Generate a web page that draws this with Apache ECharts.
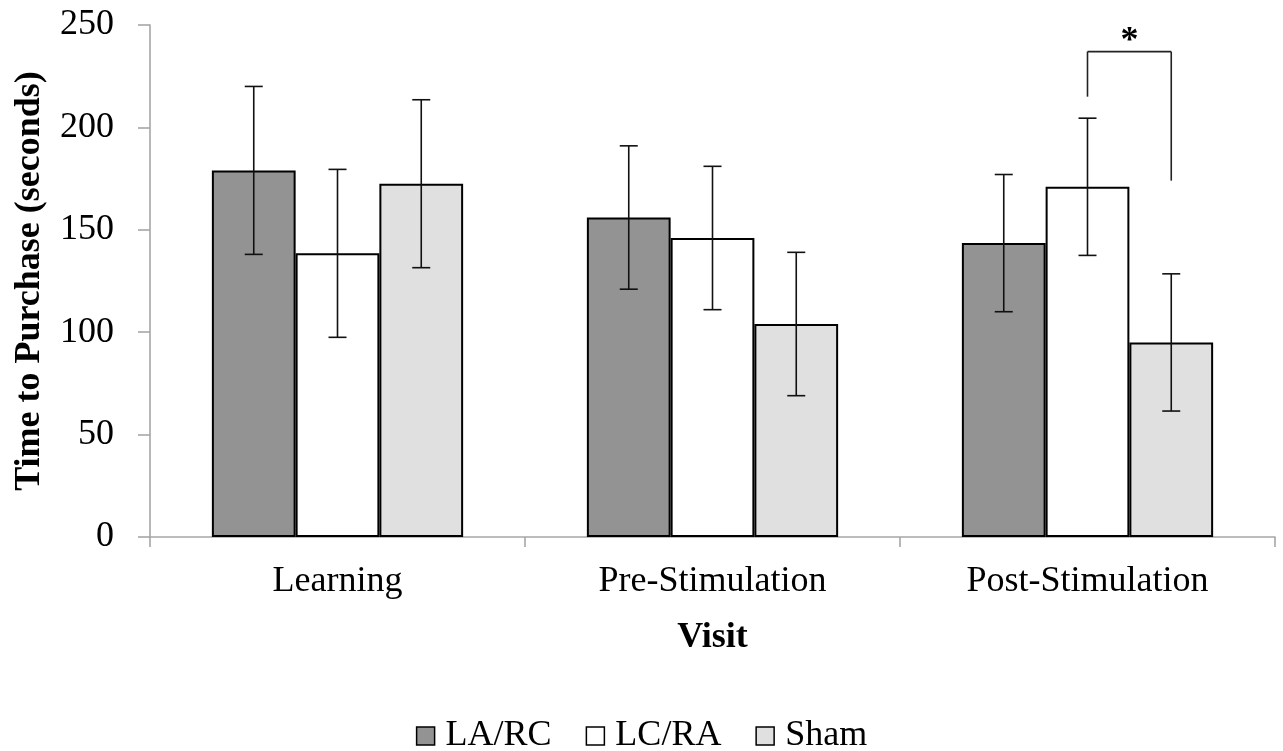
<!DOCTYPE html>
<html>
<head>
<meta charset="utf-8">
<script src="https://cdn.jsdelivr.net/npm/echarts@6/dist/echarts.min.js"></script>
<style>
html,body{margin:0;padding:0;background:#fff;}
#chart{width:1283px;height:751px;}
</style>
</head>
<body>
<div id="chart"></div>
<script>
// ---- data ----
var categories = ['Learning', 'Pre-Stimulation', 'Post-Stimulation'];
var seriesNames = ['LA/RC', 'LC/RA', 'Sham'];
var laRc = [179, 156, 143.5];
var lcRa = [138.5, 146, 171];
var sham = [172.5, 104, 95];
var laRcErr = [41, 35, 33.5];
var lcRaErr = [41, 35, 33.5];
var shamErr = [41, 35, 33.5];
var yTicks = [0, 50, 100, 150, 200, 250];
// significance bracket
var sigCategory = [2];
var sigFrom = [1];
var sigTo = [2];
var sigTop = [237];
var sigLeftEnd = [215];
var sigRightEnd = [174];
var sigLabel = ['*'];

var FONT = '"Liberation Serif", "Times New Roman", serif';
var colors = ['#939393', '#ffffff', '#e0e0e0'];
var CAT_GAP = 0.33;

function barOffset(api, idx) {
  var band = api.size([1, 0])[0];
  var barW = band * (1 - CAT_GAP) / 3;
  return (idx - 1) * barW;
}

function errData(means, errs) {
  return means.map(function (m, i) { return [i, m - errs[i], m + errs[i]]; });
}

function errSeries(name, idx, means, errs) {
  return {
    type: 'custom',
    name: name + ' err',
    z: 10,
    data: errData(means, errs),
    encode: { x: 0, y: [1, 2] },
    renderItem: function (params, api) {
      var ci = api.value(0);
      var lo = api.coord([ci, api.value(1)]);
      var hi = api.coord([ci, api.value(2)]);
      var x = lo[0] + barOffset(api, idx);
      var cap = 9;
      var style = { stroke: '#111', lineWidth: 1.6 };
      return {
        type: 'group',
        children: [
          { type: 'line', shape: { x1: x, y1: hi[1], x2: x, y2: lo[1] }, style: style },
          { type: 'line', shape: { x1: x - cap, y1: hi[1], x2: x + cap, y2: hi[1] }, style: style },
          { type: 'line', shape: { x1: x - cap, y1: lo[1], x2: x + cap, y2: lo[1] }, style: style }
        ]
      };
    }
  };
}

function barSeries(name, idx, values) {
  return {
    type: 'bar',
    name: name,
    data: values,
    barGap: '0%',
    barCategoryGap: (CAT_GAP * 100) + '%',
    itemStyle: { color: colors[idx], borderColor: '#000', borderWidth: 2 }
  };
}

var sigData = sigCategory.map(function (c, i) {
  return [c, sigTop[i], sigLeftEnd[i], sigRightEnd[i], sigFrom[i], sigTo[i]];
});

var chart = echarts.init(document.getElementById('chart'), null, { renderer: 'canvas' });
chart.setOption({
  animation: false,
  backgroundColor: '#fff',
  grid: { left: 150, right: 8, top: 25, bottom: 214, containLabel: false },
  legend: {
    data: seriesNames,
    top: 713,
    left: 'center',
    icon: 'rect',
    itemWidth: 18,
    itemHeight: 18,
    itemGap: 34,
    textStyle: { fontFamily: FONT, fontSize: 36, color: '#000', padding: [0, 0, 0, 6] },
    itemStyle: { borderColor: '#000', borderWidth: 1.5 }
  },
  xAxis: {
    type: 'category',
    data: categories,
    name: 'Visit',
    nameLocation: 'middle',
    nameGap: 83,
    nameTextStyle: { fontFamily: FONT, fontSize: 36, fontWeight: 'bold', color: '#000' },
    axisLine: { lineStyle: { color: '#a6a6a6', width: 1.6 } },
    axisTick: { show: true, length: 10, lineStyle: { color: '#a6a6a6', width: 1.6 } },
    axisLabel: { fontFamily: FONT, fontSize: 36, color: '#000', margin: 27 }
  },
  yAxis: {
    type: 'value',
    min: 0,
    max: 250,
    interval: 50,
    name: 'Time to Purchase (seconds)',
    nameLocation: 'middle',
    nameGap: 102,
    nameTextStyle: { fontFamily: FONT, fontSize: 36, fontWeight: 'bold', color: '#000' },
    axisLine: { show: true, lineStyle: { color: '#a6a6a6', width: 1.6 } },
    axisTick: { show: true, length: 12, lineStyle: { color: '#a6a6a6', width: 1.6 } },
    splitLine: { show: false },
    axisLabel: {
      fontFamily: FONT, fontSize: 36, color: '#000', margin: 36,
      formatter: function (v) { return yTicks.indexOf(v) >= 0 ? String(v) : ''; }
    }
  },
  series: [
    barSeries(seriesNames[0], 0, laRc),
    barSeries(seriesNames[1], 1, lcRa),
    barSeries(seriesNames[2], 2, sham),
    errSeries(seriesNames[0], 0, laRc, laRcErr),
    errSeries(seriesNames[1], 1, lcRa, lcRaErr),
    errSeries(seriesNames[2], 2, sham, shamErr),
    {
      type: 'custom',
      name: 'sig',
      z: 11,
      data: sigData,
      encode: { x: 0, y: [1, 2, 3] },
      renderItem: function (params, api) {
        var ci = api.value(0);
        var top = api.coord([ci, api.value(1)]);
        var le = api.coord([ci, api.value(2)]);
        var re = api.coord([ci, api.value(3)]);
        var xl = top[0] + barOffset(api, api.value(4));
        var xr = top[0] + barOffset(api, api.value(5));
        var style = { stroke: '#222', lineWidth: 1.6 };
        return {
          type: 'group',
          children: [
            { type: 'line', shape: { x1: xl, y1: top[1], x2: xr, y2: top[1] }, style: style },
            { type: 'line', shape: { x1: xl, y1: top[1], x2: xl, y2: le[1] }, style: style },
            { type: 'line', shape: { x1: xr, y1: top[1], x2: xr, y2: re[1] }, style: style },
            { type: 'text', style: { x: (xl + xr) / 2, y: top[1] + 8, text: sigLabel[params.dataIndex], fill: '#000',
              font: 'bold 36px ' + FONT, textAlign: 'center', textVerticalAlign: 'bottom' } }
          ]
        };
      }
    }
  ]
});
</script>
</body>
</html>
